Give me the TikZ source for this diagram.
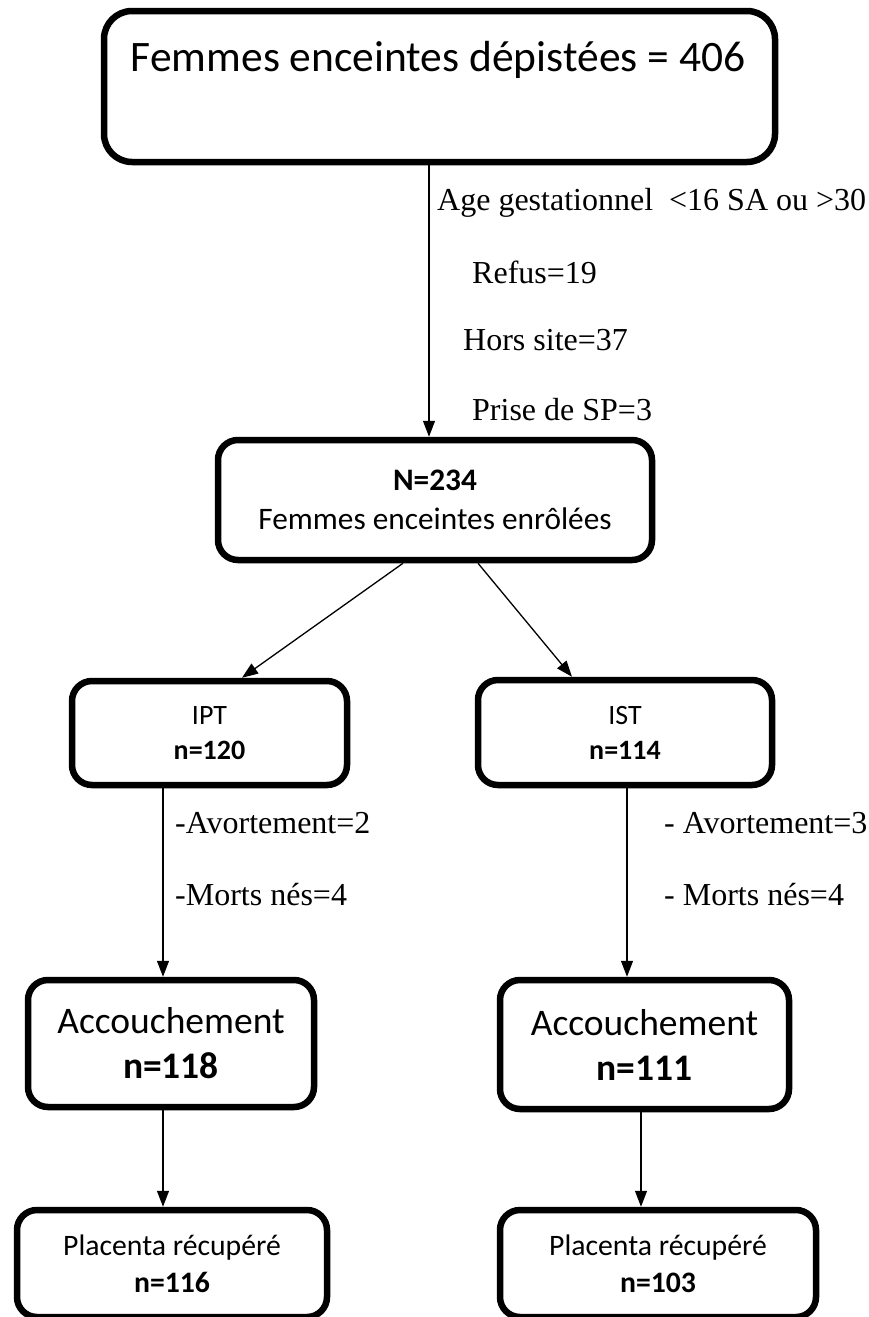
\documentclass[tikz,border=0pt]{standalone}
\usepackage{fontspec}
\setmainfont{Carlito}
\newfontfamily\tnr{Liberation Serif}
\usetikzlibrary{arrows.meta}
\tikzset{
  box/.style={draw=black, line width=6.5pt, rounded corners=20pt, inner sep=0pt, align=center},
  arr/.style={draw=black, line width=1.3pt, -{Triangle[length=16pt,width=12pt]}},
  lbl/.style={anchor=west, inner sep=0pt, font=\tnr\fontsize{32}{36}\selectfont}
}
\begin{document}
\begin{tikzpicture}[x=1pt,y=-1pt]
\useasboundingbox (0,0) rectangle (869,1317);
% boxes
\node[box, rounded corners=28pt, minimum width=671pt, minimum height=151pt] (top) at (439.5,86.5) {};
\node[inner sep=0pt, font=\fontsize{43.5}{50}\selectfont] (toptxt) at (438,60) {Femmes enceintes dépistées = 406};
\node[box, minimum width=434pt, minimum height=120pt, font=\fontsize{31.3}{39}\selectfont] (enr) at (435,500) {\textbf{N=234}\\Femmes enceintes enrôlées};
\node[box, minimum width=275pt, minimum height=104pt, font=\fontsize{28}{35}\selectfont] (ipt) at (209.5,733) {IPT\\\textbf{n=120}};
\node[box, minimum width=294pt, minimum height=105pt, font=\fontsize{28}{35}\selectfont] (ist) at (625,732.5) {IST\\\textbf{n=114}};
\node[box, minimum width=286pt, minimum height=127pt, font=\fontsize{37.5}{45}\selectfont] (accL) at (171,1043.5) {Accouchement\\\textbf{n=118}};
\node[box, minimum width=289pt, minimum height=129pt, font=\fontsize{37.5}{45}\selectfont] (accR) at (644.5,1044.5) {Accouchement\\\textbf{n=111}};
\node[box, minimum width=310pt, minimum height=107pt, font=\fontsize{29.7}{37}\selectfont] (plL) at (172,1263.5) {Placenta récupéré\\\textbf{n=116}};
\node[box, minimum width=316pt, minimum height=107pt, font=\fontsize{29.7}{37}\selectfont] (plR) at (658,1263.5) {Placenta récupéré\\\textbf{n=103}};
% connectors
\draw[arr] ([xshift=-10.5pt]top.south) -- ([xshift=-6pt]enr.north);
\draw[arr] ([xshift=-32pt]enr.south) -- ([xshift=32.5pt]ipt.north);
\draw[arr] ([xshift=43pt]enr.south) -- ([xshift=-53pt]ist.north);
\draw[arr] ([xshift=-46.5pt]ipt.south) -- ([xshift=-8pt]accL.north);
\draw[arr] ([xshift=2pt]ist.south) -- ([xshift=-17.5pt]accR.north);
\draw[arr] ([xshift=-8pt]accL.south) -- ([xshift=-9pt]plL.north);
\draw[arr] ([xshift=-3.5pt]accR.south) -- ([xshift=-17pt]plR.north);
% labels
\node[lbl] (l1) at (437,203) {Age gestationnel~~<16 SA ou >30};
\node[lbl] (l2) at (472,272) {Refus=19};
\node[lbl] (l3) at (463,340) {Hors site=37};
\node[lbl] (l4) at (472,410) {Prise de SP=3};
\node[lbl] (l5) at (175,823) {-Avortement=2};
\node[lbl] (l6) at (175,895) {-Morts nés=4};
\node[lbl] (l7) at (664,823) {- Avortement=3};
\node[lbl] (l8) at (664,895) {- Morts nés=4};
\end{tikzpicture}
\end{document}
